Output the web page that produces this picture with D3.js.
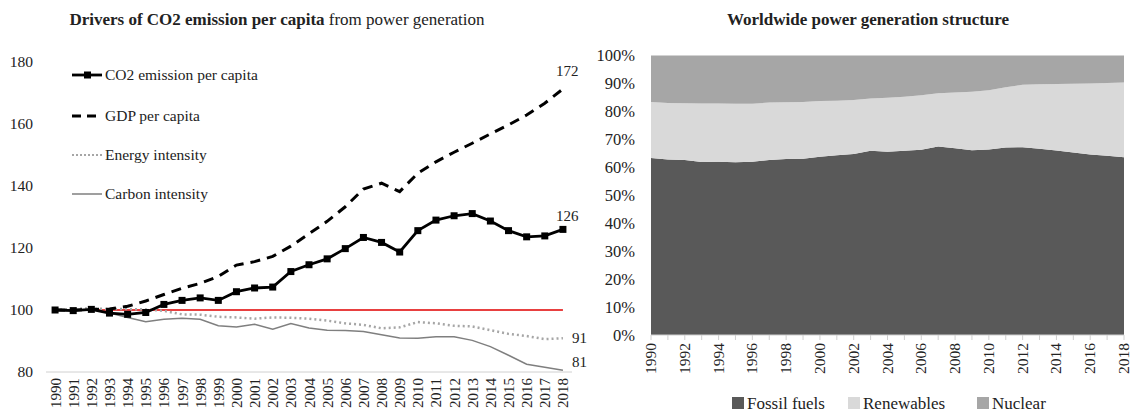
<!DOCTYPE html>
<html><head><meta charset="utf-8">
<script src="https://cdn.jsdelivr.net/npm/d3@7"></script>
<style>
body{margin:0;background:#fff;}
svg text{font-family:"Liberation Serif","Times New Roman",serif;fill:#222;}
</style></head>
<body><svg id="c" width="1131" height="413"></svg>
<script>
const years = d3.range(1990, 2019);
const co2 = [100,99.8,100.2,99,98.6,99.2,101.8,103.1,103.9,103.1,105.9,107.1,107.4,112.4,114.6,116.5,119.8,123.4,121.8,118.7,125.6,129,130.4,131.1,128.7,125.6,123.6,123.9,126];
const gdp = [100,100,100.2,100.3,101.2,102.9,105,107,108.6,110.8,114.5,115.6,117.3,120.6,124.6,128.6,133.3,139,140.9,138.2,144.1,147.8,150.9,153.8,156.8,159.7,162.9,166.7,171.3];
const energyInt = [100,100.4,100.5,100.3,100.3,100.2,99.7,98.6,98.5,97.8,97.6,97.2,97.6,97.5,97.2,96.6,95.7,95.2,94.1,94.4,96.1,95.7,94.9,94.7,93.5,92.3,91.6,90.6,90.9];
const carbonInt = [100,100,100.2,99,97.6,96.2,97,97.3,97,94.9,94.5,95.4,93.8,95.6,94.2,93.5,93.4,93.1,92,91,90.9,91.4,91.4,90.2,88.2,85.4,82.5,81.5,80.6];
const leftTicks = [80,100,120,140,160,180];

const fossil = [63.3,62.8,62.6,61.9,62.0,61.8,62.0,62.6,63.0,63.1,63.8,64.3,64.8,65.9,65.6,65.9,66.3,67.4,66.8,66.1,66.4,67.1,67.2,66.6,66.0,65.3,64.6,64.1,63.6];
const renewables = [20.1,20.2,20.3,20.9,20.8,20.9,20.7,20.6,20.3,20.3,19.9,19.5,19.3,18.7,19.3,19.3,19.5,19.1,20.0,20.9,21.2,21.5,22.3,23.1,23.8,24.6,25.4,26.1,26.7];
const nuclear = [16.6,17.0,17.1,17.2,17.2,17.3,17.3,16.8,16.7,16.6,16.3,16.2,15.9,15.4,15.1,14.8,14.2,13.5,13.2,13.0,12.4,11.4,10.5,10.3,10.2,10.1,10.0,9.8,9.7];
const rightTicks = [0,10,20,30,40,50,60,70,80,90,100];
const rightLabelYears = d3.range(1990, 2019, 2);

const svg = d3.select("#c");

// ---------- LEFT CHART ----------
const L = svg.append("g");
L.append("text").attr("x", 277).attr("y", 25).attr("text-anchor","middle")
 .style("font-size","17px")
 .call(t=>{
   t.append("tspan").style("font-weight","bold").text("Drivers of ");
   t.append("tspan").style("font-weight","bold").text("CO2 emission per capita");
   t.append("tspan").text(" from power generation");
 });

const x = d3.scaleBand().domain(years).range([46, 572]);
const xc = d => x(d) + x.bandwidth()/2;
const y = d3.scaleLinear().domain([80,180]).range([372,62]);

L.selectAll(".yl").data(leftTicks).join("text")
 .attr("x", 33).attr("y", d=>y(d)+5).attr("text-anchor","end")
 .style("font-size","15.5px").text(d=>d);

L.append("line").attr("x1",46).attr("x2",572).attr("y1",y(80)).attr("y2",y(80))
 .attr("stroke","#d0d0d0").attr("stroke-width",1);
L.selectAll(".xl").data(years).join("text")
 .attr("transform", d=>`translate(${xc(d)+5.5},${y(80)+6}) rotate(-90)`)
 .attr("text-anchor","end").style("font-size","15px").text(d=>d);

L.append("line").attr("x1",xc(1990)).attr("x2",xc(2018)).attr("y1",y(100)).attr("y2",y(100))
 .attr("stroke","#e00000").attr("stroke-width",1.5);

const line = d3.line().x((d,i)=>xc(years[i])).y(d=>y(d));
L.append("path").datum(carbonInt).attr("d",line).attr("fill","none")
 .attr("stroke","#7f7f7f").attr("stroke-width",1.5);
L.append("path").datum(energyInt).attr("d",line).attr("fill","none")
 .attr("stroke","#a6a6a6").attr("stroke-width",2.5).attr("stroke-dasharray","2,3");
L.append("path").datum(gdp).attr("d",line).attr("fill","none")
 .attr("stroke","#000").attr("stroke-width",3).attr("stroke-dasharray","10,7");
L.append("path").datum(co2).attr("d",line).attr("fill","none")
 .attr("stroke","#000").attr("stroke-width",2.8);
L.selectAll(".mk").data(co2).join("rect")
 .attr("x",(d,i)=>xc(years[i])-3.5).attr("y",d=>y(d)-3.5)
 .attr("width",7).attr("height",7).attr("fill","#000");

L.append("text").attr("x",556).attr("y",y(gdp[28])-13).style("font-size","15px").text("172");
L.append("text").attr("x",556).attr("y",y(co2[28])-8).style("font-size","15px").text("126");
L.append("text").attr("x",572).attr("y",y(energyInt[28])+5).style("font-size","15px").text("91");
L.append("text").attr("x",572).attr("y",y(carbonInt[28])-3).style("font-size","15px").text("81");

const legItems = [
  {name:"CO2 emission per capita", stroke:"#000", w:2.8, dash:null, marker:true},
  {name:"GDP per capita", stroke:"#000", w:3, dash:"9,6", marker:false},
  {name:"Energy intensity", stroke:"#a6a6a6", w:2, dash:"2,2", marker:false},
  {name:"Carbon intensity", stroke:"#7f7f7f", w:1.5, dash:null, marker:false}
];
const legY = [75,116,155,194];
legItems.forEach((it,i)=>{
  const g = L.append("g").attr("transform",`translate(0,${legY[i]})`);
  g.append("line").attr("x1",72).attr("x2",102).attr("y1",0).attr("y2",0)
   .attr("stroke",it.stroke).attr("stroke-width",it.w).attr("stroke-dasharray",it.dash);
  if(it.marker) g.append("rect").attr("x",84).attr("y",-3.5).attr("width",7).attr("height",7).attr("fill","#000");
  g.append("text").attr("x",105).attr("y",5).style("font-size","15.5px").text(it.name);
});

// ---------- RIGHT CHART ----------
const R = svg.append("g");
R.append("text").attr("x",868).attr("y",25).attr("text-anchor","middle")
 .style("font-size","17px").style("font-weight","bold").text("Worldwide power generation structure");

const xr = d3.scaleLinear().domain([1990,2018]).range([651,1124]);
const yr = d3.scaleLinear().domain([0,100]).range([335,55.5]);
const keys = ["fossil","renewables","nuclear"];
const tbl = years.map((yy,i)=>({year:yy, fossil:fossil[i], renewables:renewables[i], nuclear:nuclear[i]}));
const stack = d3.stack().keys(keys).offset(d3.stackOffsetExpand)(tbl);
const colors = {fossil:"#595959", renewables:"#d9d9d9", nuclear:"#a6a6a6"};
const area = d3.area().x(d=>xr(d.data.year)).y0(d=>yr(d[0]*100)).y1(d=>yr(d[1]*100));
R.selectAll(".ar").data(stack).join("path").attr("d",area).attr("fill",d=>colors[d.key]);

R.selectAll(".yl").data(rightTicks).join("text")
 .attr("x",635).attr("y",d=>yr(d)+5.5).attr("text-anchor","end")
 .style("font-size","16.5px").text(d=>d+"%");

R.append("line").attr("x1",651).attr("x2",1124).attr("y1",335).attr("y2",335)
 .attr("stroke","#d0d0d0");
R.selectAll(".tk").data(years).join("line")
 .attr("x1",d=>xr(d)).attr("x2",d=>xr(d)).attr("y1",335).attr("y2",340)
 .attr("stroke","#d0d0d0");
R.selectAll(".xl").data(rightLabelYears).join("text")
 .attr("transform",d=>`translate(${xr(d)+5},${343}) rotate(-90)`)
 .attr("text-anchor","end").style("font-size","15.5px").text(d=>d);

const rl = [{k:"fossil",n:"Fossil fuels",x:732},{k:"renewables",n:"Renewables",x:848},{k:"nuclear",n:"Nuclear",x:977}];
rl.forEach(it=>{
  R.append("rect").attr("x",it.x).attr("y",397).attr("width",12).attr("height",12).attr("fill",colors[it.k]);
  R.append("text").attr("x",it.x+15).attr("y",409).style("font-size","17px").text(it.n);
});
</script></body></html>
